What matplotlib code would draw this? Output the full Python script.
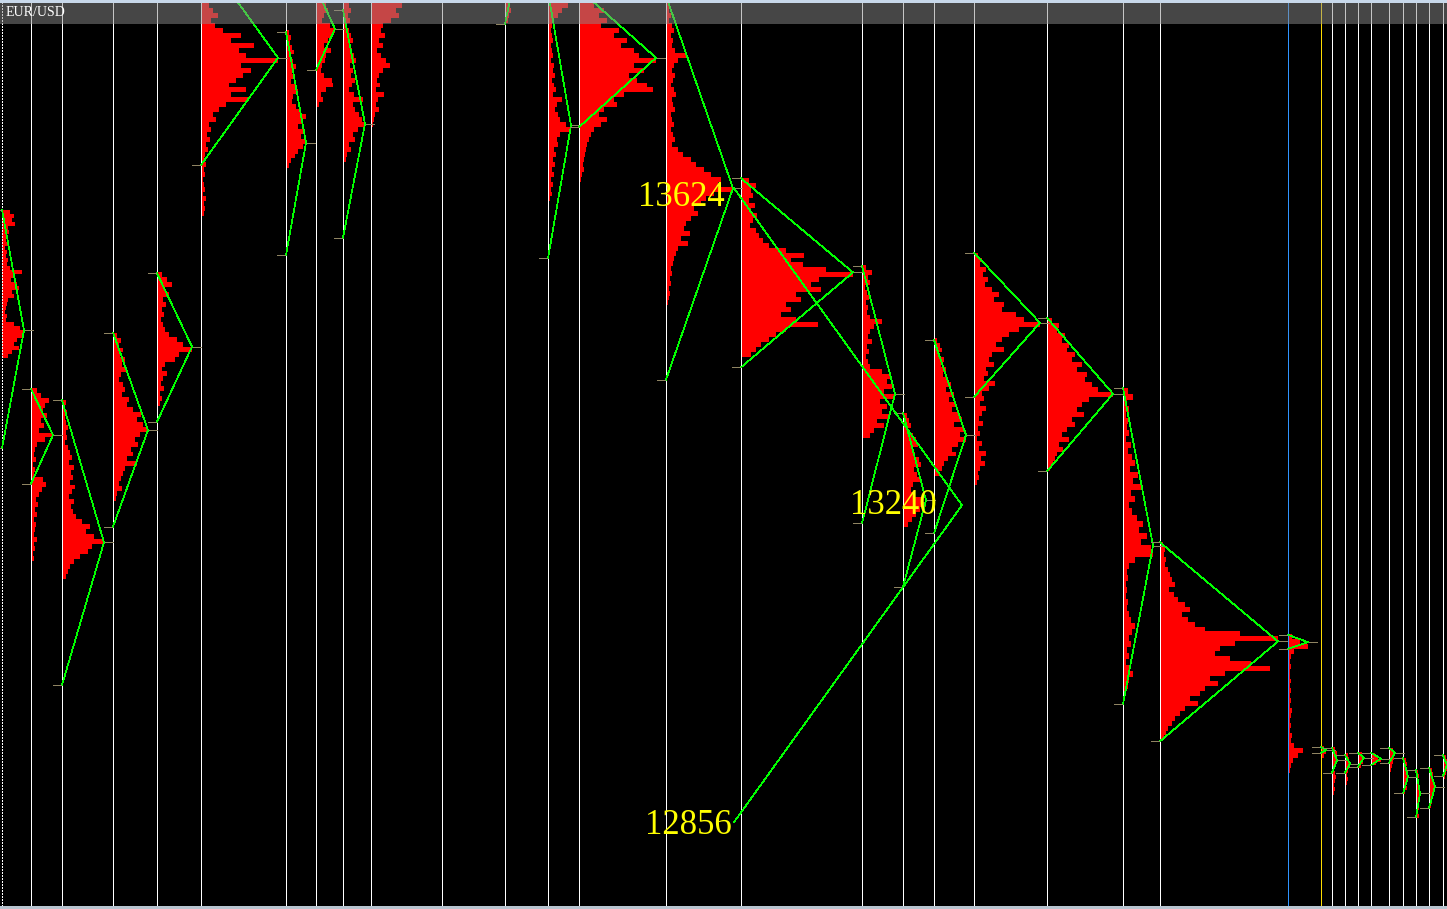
import matplotlib
matplotlib.use("Agg")
import matplotlib.pyplot as plt
from matplotlib.patches import Rectangle

symbol = "EUR/USD"

# session boundaries (time axis, bar units)
session_x = [2, 31, 62, 113, 157, 201, 286, 316, 343, 371, 442, 505, 548, 579, 666, 741,
             862, 903, 934, 974, 1047, 1123, 1160, 1288, 1321, 1332, 1345, 1358, 1371,
             1389, 1403, 1416, 1429, 1443]
current_session = 1288
today_session = 1321

# volume profiles: session start, top price (pips*1e4), price step, volume widths top->bottom
prof_x = [2, 31, 62, 113, 157, 201, 286, 316, 343, 371, 505, 548, 579, 666, 741, 862, 903,
          934, 974, 1047, 1123, 1160, 1288, 1321, 1332, 1345, 1358, 1371, 1389, 1403, 1416,
          1429, 1443]
prof_top = [13598, 13382, 13367, 13449, 13522, 13848, 13816, 13848, 13848, 13848, 13848,
            13848, 13848, 13848, 13636, 13531, 13352, 13443, 13546, 13467, 13382, 13195,
            13084, 12948, 12947, 12940, 12941, 12940, 12946, 12934, 12919, 12922, 12937]
prof_step = [4.85, 6, 6, 6, 6, 6, 6, 6, 6, 6, 6, 6, 6, 6, 6, 6, 6, 6, 6, 6, 7.3, 6, 6,
             4.85, 4.85, 4.85, 4.85, 3.6, 4.85, 4.85, 4.85, 4.85, 4.85]

w00 = [8, 12, 10, 13, 6, 7, 5, 4, 6, 3, 5, 4, 6, 5, 8, 20, 12, 9, 15, 17, 10, 12, 6, 5, 4, 3,
       5, 4, 12, 18, 22, 20, 15, 12, 17, 10, 6]
w01 = [6, 10, 18, 14, 12, 16, 10, 13, 8, 22, 14, 6, 4, 3, 5, 2, 4, 3, 12, 15, 11, 8, 5, 7, 4,
       6, 3, 5, 4, 3, 6, 3, 4, 2, 3]
w02 = [4, 3, 5, 3, 4, 6, 4, 5, 3, 6, 8, 10, 7, 12, 9, 11, 8, 13, 10, 7, 12, 9, 11, 14, 20, 28,
       24, 32, 42, 30, 26, 18, 12, 8, 6, 4]
w03 = [4, 8, 6, 10, 7, 12, 9, 14, 8, 6, 10, 12, 9, 16, 14, 20, 28, 24, 30, 35, 27, 22, 25, 18,
       20, 14, 24, 12, 10, 8, 6, 9, 4, 3]
w04 = [5, 10, 15, 8, 12, 6, 9, 5, 7, 4, 6, 8, 12, 20, 26, 35, 22, 18, 8, 5, 10, 6, 4, 7, 3, 5, 3]
w05 = [8, 12, 17, 10, 14, 22, 40, 30, 53, 38, 45, 77, 40, 50, 42, 35, 28, 45, 30, 47, 25, 18,
       12, 15, 8, 10, 6, 9, 5, 7, 4, 3, 5, 3, 4, 2, 3, 4, 2, 5, 3, 4, 3]
w06 = [3, 5, 4, 6, 8, 5, 7, 10, 6, 8, 5, 9, 12, 7, 6, 10, 14, 20, 16, 12, 18, 15, 20, 17, 12, 9,
       5, 3]
w07 = [10, 12, 8, 6, 14, 19, 16, 12, 8, 15, 10, 9, 6, 5, 8, 16, 17, 10, 5, 7, 3]
w08 = [6, 8, 5, 7, 4, 6, 8, 10, 6, 9, 11, 13, 7, 10, 8, 12, 9, 6, 11, 20, 10, 12, 16, 19, 22,
       15, 10, 12, 6, 8, 4, 3]
w09 = [31, 25, 28, 20, 12, 10, 14, 8, 12, 6, 10, 15, 19, 12, 8, 6, 9, 5, 13, 7, 5, 8, 4, 3, 2]
w10 = [5, 6, 4, 3]
w11 = [20, 14, 10, 6, 4, 3, 4, 5, 3, 4, 5, 3, 6, 5, 7, 4, 6, 8, 5, 14, 9, 7, 10, 12, 18, 23, 12,
       9, 10, 6, 8, 5, 7, 4, 6, 3, 5, 3, 4, 2]
w12 = [15, 25, 20, 28, 22, 40, 35, 48, 42, 55, 60, 77, 55, 65, 50, 58, 68, 74, 45, 35, 38, 25,
       20, 28, 22, 15, 12, 10, 8, 7, 6, 5, 4, 5, 3, 2]
w13 = [4, 3, 5, 3, 6, 8, 5, 7, 6, 9, 20, 12, 8, 6, 9, 7, 5, 8, 10, 6, 7, 9, 5, 6, 8, 5, 7, 9, 6,
       12, 17, 25, 30, 38, 45, 55, 52, 67, 48, 40, 35, 28, 32, 25, 20, 18, 24, 15, 22, 12, 10,
       8, 7, 5, 6, 4, 5, 3, 4, 3, 2]
w14 = [8, 15, 10, 12, 8, 14, 10, 16, 12, 9, 15, 18, 22, 28, 45, 63, 50, 62, 85, 112, 78, 70,
       80, 55, 60, 45, 50, 40, 55, 77, 45, 35, 28, 20, 15, 10]
w15 = [4, 10, 6, 8, 3, 5, 7, 4, 6, 5, 8, 20, 12, 8, 6, 10, 5, 7, 4, 6, 8, 20, 28, 25, 30, 22, 33,
       18, 25, 20, 27, 15, 22, 12, 8]
w16 = [4, 6, 8, 5, 10, 13, 15, 9, 12, 16, 18, 11, 14, 17, 10, 8, 12, 20, 23, 17, 13, 9, 5]
w17 = [3, 6, 8, 5, 10, 7, 12, 9, 14, 17, 12, 20, 15, 22, 18, 25, 28, 20, 30, 26, 32, 24, 18, 22,
       14, 10, 8, 5]
w18 = [4, 8, 6, 12, 9, 14, 11, 18, 25, 20, 30, 28, 42, 50, 66, 45, 35, 28, 22, 30, 18, 15, 20,
       12, 14, 10, 21, 15, 8, 10, 6, 12, 8, 5, 9, 4, 6, 3, 8, 5, 12, 7, 11, 6, 4, 5, 3]
w19 = [5, 12, 10, 18, 15, 22, 20, 28, 25, 35, 30, 40, 38, 45, 51, 66, 42, 35, 30, 37, 25, 28,
       20, 15, 22, 12, 16, 10, 8, 6, 3]
w20 = [5, 10, 4, 6, 3, 5, 4, 6, 3, 8, 5, 9, 12, 7, 15, 10, 18, 8, 12, 6, 9, 14, 20, 16, 24, 18,
       28, 30, 12, 6, 4, 5, 3, 4, 3, 5, 4, 6, 8, 12, 9, 6, 8, 4, 6, 3, 7, 10, 6, 5, 3, 2]
w21 = [3, 5, 4, 6, 5, 8, 10, 12, 15, 9, 14, 18, 25, 30, 22, 28, 35, 45, 80, 118, 75, 60, 55, 70,
       91, 110, 65, 50, 58, 45, 40, 30, 38, 25, 20, 15, 12, 8, 6, 4]
w22 = [4, 12, 20, 6, 3, 2, 3, 2, 2, 3, 2, 3, 2, 3, 2, 4, 3, 2, 3, 2, 4, 3, 6, 15, 10, 5, 3, 2]
w23 = [3, 5, 3]
w24 = [3, 5, 4, 5, 3, 2, 3, 4, 3, 2, 3, 2]
w25 = [3, 4, 5, 4, 3, 2, 3, 2]
w26 = [4, 6, 5, 3]
w27 = [4, 7, 10, 5]
w28 = [4, 6, 5, 4, 3, 2]
w29 = [3, 4, 3, 4, 5, 4, 3, 4, 2]
w30 = [2, 3, 2, 3, 4, 3, 4, 3, 2, 3, 2, 3]
w31 = [3, 4, 3, 5, 6, 5, 4, 3, 3, 2]
w32 = [3, 4, 3, 4, 3, 2]
profile_widths = [w00, w01, w02, w03, w04, w05, w06, w07, w08, w09, w10, w11, w12, w13, w14,
                  w15, w16, w17, w18, w19, w20, w21, w22, w23, w24, w25, w26, w27, w28, w29,
                  w30, w31, w32]

# range / POC triangles of every profile (None = not drawn)
tri_hi = [13598, 13381, 13367, 13449, 13521, 13911, 13813, 13867, 13840, None, 13893, 13862,
          13865, 13857, 13636, 13530, 13352, 13440, 13546, 13467, 13382, 13195, 13083, 12947,
          12946, 12937, 12940, 12940, 12946, 12934, 12919, 12922, 12937]
tri_poc = [13452, 13325, 13195, 13331, 13432, 13782, 13679, 13817, 13702, None, 13858, 13700,
           13782, 13624, 13522, 13375, 13246, 13325, 13461, 13375, 13191, 13075, 13074, 12943,
           12931, 12927, 12934, 12933, 12940, 12911, 12891, 12899, 12925]
tri_lo = [13309, 13266, 13022, 13214, 13341, 13652, 13543, 13767, 13564, None, 13823, 13539,
          13698, 13392, 13407, 13218, 13141, 13206, 13371, 13281, 12999, 12954, 13066, 12940,
          12916, 12916, 12923, 12925, 12928, 12891, 12862, 12873, 12912]

# large composite triangle
big_x = 734
big_apex_x = 962
big_hi, big_poc, big_lo = 13624, 13240, 12856

# ---------------------------------------------------------------------------
W, H = 1447, 909
fig = plt.figure(figsize=(W / 100, H / 100), dpi=100, facecolor="black")
ax = fig.add_axes([0, 0, 1, 1])
ax.set_facecolor("black")
ax.set_xlim(0, W)
ax.set_ylim(12750.8, 13852)
ax.axis("off")

RED = "#ff0000"
GREEN = "#00ff00"
TICK = "#8f8462"
LW = 0.68   # one pixel (vertical lines)
GLW = 0.5   # thin diagonal lines

# session separators
for x in session_x:
    color, ls = "white", "-"
    if x == current_session:
        color = "#2f95ff"
    elif x == today_session:
        color = "#ffdd00"
    if x == session_x[0]:
        ls = (0, (1.5, 1.5))
    ax.axvline(x, color=color, lw=LW, ls=ls, zorder=3, antialiased=False)

# profiles
for x0, top, step, w in zip(prof_x, prof_top, prof_step, profile_widths):
    centers = [top - step * (i + 0.5) for i in range(len(w))]
    ax.barh(centers, w, height=step, left=x0, color=RED, linewidth=0, zorder=2,
            antialiased=False)

# triangles
for x0, w, hi, poc, lo in zip(prof_x, profile_widths, tri_hi, tri_poc, tri_lo):
    if hi is None:
        continue
    ax_x = x0 + max(w)
    ax.plot([x0, ax_x, x0], [hi, poc, lo], color=GREEN, lw=GLW, zorder=4, antialiased=False)
    ax.plot([x0 - 9, x0 - 1], [hi, hi], color=TICK, lw=GLW, zorder=4, antialiased=False)
    ax.plot([x0 - 9, x0 - 1], [lo, lo], color=TICK, lw=GLW, zorder=4, antialiased=False)
    ax.plot([ax_x + 1, ax_x + 9], [poc, poc], color=TICK, lw=GLW, zorder=4, antialiased=False)

ax.plot([big_x, big_apex_x, big_x], [big_hi, big_poc, big_lo], color=GREEN, lw=GLW, zorder=4,
        antialiased=False)

label_font = dict(family="Liberation Serif", color="#ffff00", fontsize=25, zorder=6,
                  ha="right", va="center", textcoords="offset pixels")
ax.annotate(str(big_hi), xy=(big_x, big_hi), xytext=(-9, -9), **label_font)
ax.annotate(str(big_poc), xy=(big_apex_x, big_poc), xytext=(-25, 0), **label_font)
ax.annotate(str(big_lo), xy=(big_x, big_lo), xytext=(-2, -3), **label_font)

# chart frame decorations (top info band, borders)
fig.patches.append(Rectangle((0, 1 - 24 / H), 1, 21 / H, transform=fig.transFigure,
                             facecolor="#8c8c8c", alpha=0.5, edgecolor="none", zorder=5))
fig.patches.append(Rectangle((0, 1 - 3 / H), 1, 3 / H, transform=fig.transFigure,
                             facecolor="#c8d8ea", edgecolor="none", zorder=6))
fig.patches.append(Rectangle((0, 0), 1, 3 / H, transform=fig.transFigure,
                             facecolor="#b8c4d0", edgecolor="none", zorder=6))
fig.text(6 / W, 1 - 12 / H, symbol, color="white", fontsize=10, family="Liberation Serif",
         ha="left", va="center", zorder=7)

fig.savefig("out.png", dpi=100, facecolor="black")
